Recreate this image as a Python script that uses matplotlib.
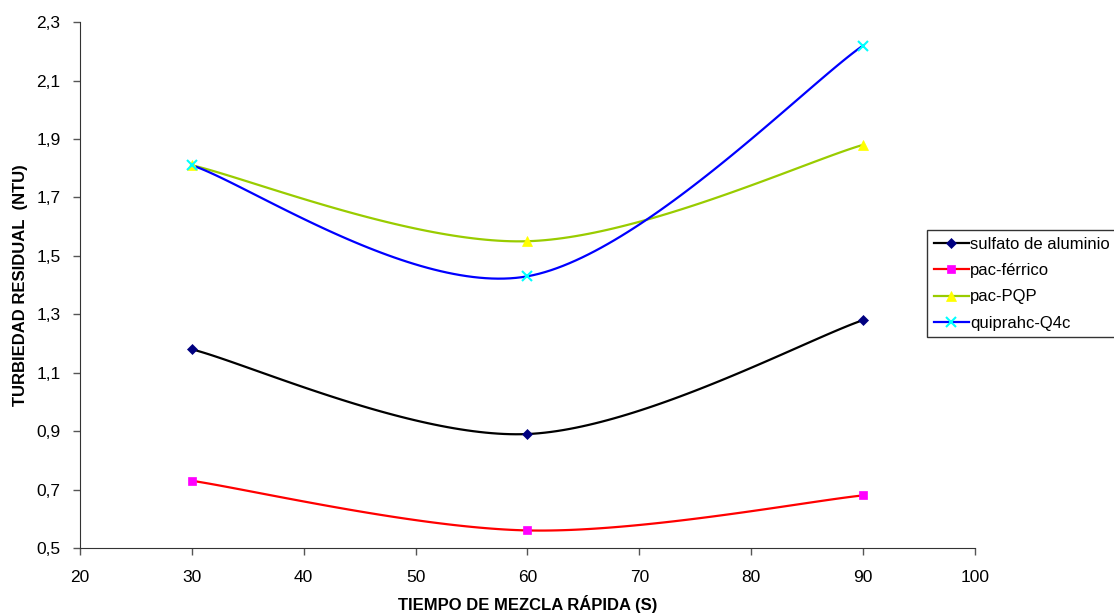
import numpy as np
import matplotlib
matplotlib.use("Agg")
import matplotlib.pyplot as plt
from matplotlib.ticker import FuncFormatter

plt.rcParams['font.family'] = ['Liberation Sans', 'DejaVu Sans']

# data
tiempo = [30, 60, 90]
sulfato = [1.18, 0.89, 1.28]
pac_ferrico = [0.73, 0.56, 0.68]
pac_pqp = [1.81, 1.55, 1.88]
quiprahc = [1.81, 1.43, 2.22]

series = [
    ("sulfato de aluminio", sulfato, "#000000", "#000080", "D", 5),
    ("pac-férrico", pac_ferrico, "#ff0000", "#ff00ff", "s", 6),
    ("pac-PQP", pac_pqp, "#99cc00", "#ffff00", "^", 7),
    ("quiprahc-Q4c", quiprahc, "#0000ff", "#00ffff", "x", 7),
]


def excel_smooth(x, y, n=60):
    # bezier smoothing like excel's "smoothed line"
    x = np.asarray(x, float)
    y = np.asarray(y, float)
    px = np.concatenate([[x[0]], x, [x[-1]]])
    py = np.concatenate([[y[0]], y, [y[-1]]])
    t = np.linspace(0, 1, n)
    xs, ys = [], []
    for i in range(1, len(x)):
        p0 = np.array([px[i], py[i]])
        p3 = np.array([px[i + 1], py[i + 1]])
        c1 = p0 + (np.array([px[i + 1], py[i + 1]]) - np.array([px[i - 1], py[i - 1]])) / 6
        c2 = p3 - (np.array([px[i + 2], py[i + 2]]) - np.array([px[i], py[i]])) / 6
        b = ((1 - t) ** 3)[:, None] * p0 + (3 * (1 - t) ** 2 * t)[:, None] * c1 \
            + (3 * (1 - t) * t ** 2)[:, None] * c2 + (t ** 3)[:, None] * p3
        xs.append(b[:, 0])
        ys.append(b[:, 1])
    return np.concatenate(xs), np.concatenate(ys)


fig = plt.figure(figsize=(11.14, 6.15), dpi=100)
ax = fig.add_axes([0.0718, 0.109, 0.8034, 0.855])

handles = []
for name, vals, lc, mc, mk, ms in series:
    sx, sy = excel_smooth(tiempo, vals)
    ax.plot(sx, sy, color=lc, lw=1.6, zorder=2)
    ax.plot(tiempo, vals, linestyle="none", marker=mk, color=mc, markersize=ms,
            markeredgewidth=1.5 if mk == "x" else 0.5, zorder=3)
    h, = ax.plot([], [], color=lc, lw=1.6, marker=mk, markerfacecolor=mc,
                 markeredgecolor=mc, markersize=ms,
                 markeredgewidth=1.5 if mk == "x" else 0.5, label=name)
    handles.append(h)

ax.set_xlim(20, 100)
ax.set_ylim(0.5, 2.3)
ax.set_xticks(np.arange(20, 101, 10))
ax.set_yticks(np.arange(0.5, 2.31, 0.2))
ax.yaxis.set_major_formatter(FuncFormatter(lambda v, p: f"{v:.1f}".replace(".", ",")))
ax.tick_params(labelsize=12.5, direction="out", length=5, width=1, color="#555555")
ax.tick_params(axis="x", pad=11)
ax.tick_params(axis="y", pad=9)
for s in ["top", "right"]:
    ax.spines[s].set_visible(False)
for s in ["left", "bottom"]:
    ax.spines[s].set_color("#333333")

ax.set_xlabel("TIEMPO DE MEZCLA RÁPIDA (S)", fontsize=12, fontweight="bold", labelpad=7)
ax.set_ylabel("TURBIEDAD RESIDUAL  (NTU)", fontsize=12, fontweight="bold", labelpad=6)

# legend box runs off the right edge like in the original, text kept inside
leg = fig.legend(handles=handles, loc="upper left", bbox_to_anchor=(927 / 1114, 1 - 230 / 615),
                 fontsize=12, frameon=True, fancybox=False, edgecolor="black",
                 handlelength=2.1, handletextpad=0.1, borderpad=0.4, labelspacing=0.68,
                 borderaxespad=0)
leg.get_frame().set_linewidth(1)

fig.savefig("out.png", dpi=100)
